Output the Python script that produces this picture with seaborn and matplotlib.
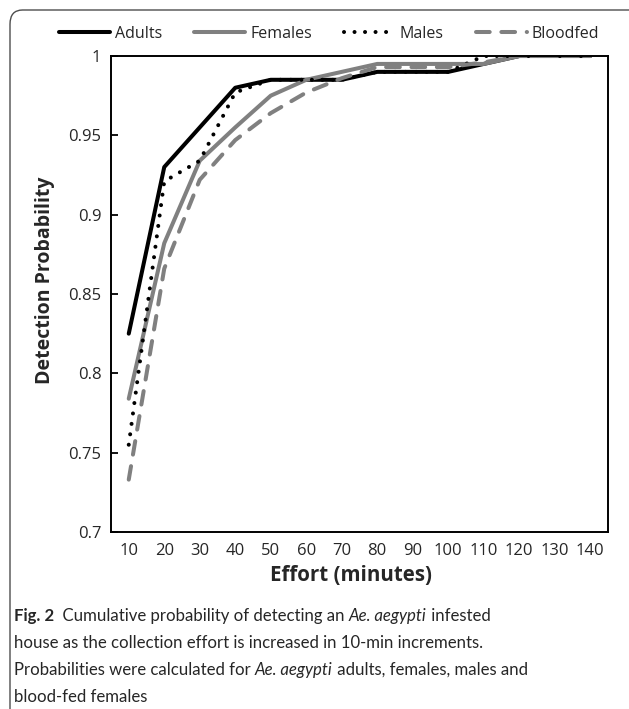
import numpy as np
import pandas as pd
import matplotlib
matplotlib.use("Agg")
import matplotlib.pyplot as plt
import seaborn as sns
from matplotlib.patches import FancyBboxPatch

# data
effort = [10, 20, 30, 40, 50, 60, 70, 80, 90, 100, 110, 120, 130, 140]
adults = [0.825, 0.930, 0.955, 0.980, 0.985, 0.985, 0.985, 0.990, 0.990, 0.990, 0.995, 1.0, 1.0, 1.0]
females = [0.784, 0.882, 0.934, 0.955, 0.975, 0.985, 0.990, 0.995, 0.995, 0.995, 0.995, 1.0, 1.0, 1.0]
males = [0.755, 0.921, 0.934, 0.977, 0.985, 0.985, 0.985, 0.990, 0.990, 0.990, 1.0, 1.0, 1.0, 1.0]
bloodfed = [0.733, 0.866, 0.922, 0.947, 0.964, 0.977, 0.986, 0.993, 0.993, 0.993, 0.996, 1.0, 1.0, 1.0]

y_ticks = [0.7, 0.75, 0.8, 0.85, 0.9, 0.95, 1.0]
y_tick_labels = ["0.7", "0.75", "0.8", "0.85", "0.9", "0.95", "1"]

sns.set_style("white")
plt.rcParams['font.family'] = ['Open Sans', 'DejaVu Sans']

W, H = 629, 709
fig = plt.figure(figsize=(W / 100, H / 100), dpi=100)
ax = fig.add_axes([111 / W, 1 - 532 / H, 497 / W, 476 / H])

gray = "#808080"
lw = 2.9
series = [
    ("Adults", adults, dict(color="black", linestyle="-")),
    ("Females", females, dict(color=gray, linestyle="-")),
    ("Males", males, dict(color="black", linestyle=(0, (0.01, 2.6)), dash_capstyle="round")),
    ("Bloodfed", bloodfed, dict(color=gray, linestyle=(0, (3.4, 2.9)), dash_capstyle="round")),
]
for name, vals, kw in series:
    sns.lineplot(x=effort, y=vals, ax=ax, label=name, linewidth=lw, **kw)

ax.set_xlim(5, 145)
ax.set_ylim(0.7, 1.0)
ax.set_xticks(effort)
ax.set_xticklabels([str(e) for e in effort], fontsize=12)
ax.set_xticks([e + 5 for e in effort[:-1]], minor=True)
ax.tick_params(axis="x", which="major", length=0, pad=8)
ax.tick_params(axis="x", which="minor", direction="in", length=5, width=1.3, color="black")
ax.set_yticks(y_ticks)
ax.set_yticklabels(y_tick_labels, fontsize=12)
ax.tick_params(axis="y", direction="in", length=5, width=1.3, color="black", pad=7, left=True)

for sp in ax.spines.values():
    sp.set_visible(True)
    sp.set_color("black")
    sp.set_linewidth(1.4)

ax.set_xlabel("Effort (minutes)", fontsize=14.8, fontweight="bold")
ax.set_ylabel("Detection Probability", fontsize=14, fontweight="bold")
ax.xaxis.set_label_coords((351 - 111) / 497, -(565 - 532) / 476)
ax.yaxis.set_label_coords(-(111 - 55) / 497, (532 - 280) / 476)

leg = ax.legend(loc="center", bbox_to_anchor=((329 - 111) / 497, (532 - 34) / 476),
                ncol=4, frameon=False, fontsize=11.5, handlelength=3.2,
                handletextpad=0.3, columnspacing=2.0, borderaxespad=0)

# figure frame
frame = FancyBboxPatch((10 / W, -0.05), 1.2, (H - 10) / H + 0.05,
                       boxstyle="round,pad=0,rounding_size=0.02",
                       transform=fig.transFigure, fill=False,
                       edgecolor="#4d4d4d", linewidth=1.0, clip_on=False)
fig.patches.append(frame)

# caption with mixed bold/italic runs
renderer = fig.canvas.get_renderer()
cap_size = 12.1
cap_lines = [
    [("Fig. 2", "bold", "normal"), ("  Cumulative probability of detecting an ", "normal", "normal"),
     ("Ae. aegypti", "normal", "italic"), (" infested", "normal", "normal")],
    [("house as the collection effort is increased in 10-min increments.", "normal", "normal")],
    [("Probabilities were calculated for ", "normal", "normal"), ("Ae. aegypti", "normal", "italic"),
     (" adults, females, males and", "normal", "normal")],
    [("blood-fed females", "normal", "normal")],
]
cap_y = [616, 643, 670, 697]
for runs, yy in zip(cap_lines, cap_y):
    x = 14 / W
    for txt, wt, st in runs:
        t = fig.text(x, 1 - yy / H, txt, fontsize=cap_size, fontweight=wt, fontstyle=st,
                     family=["Lato", "DejaVu Sans"], va="center", ha="left")
        bb = t.get_window_extent(renderer=renderer)
        x += bb.width / W

fig.savefig("out.png", dpi=100)
